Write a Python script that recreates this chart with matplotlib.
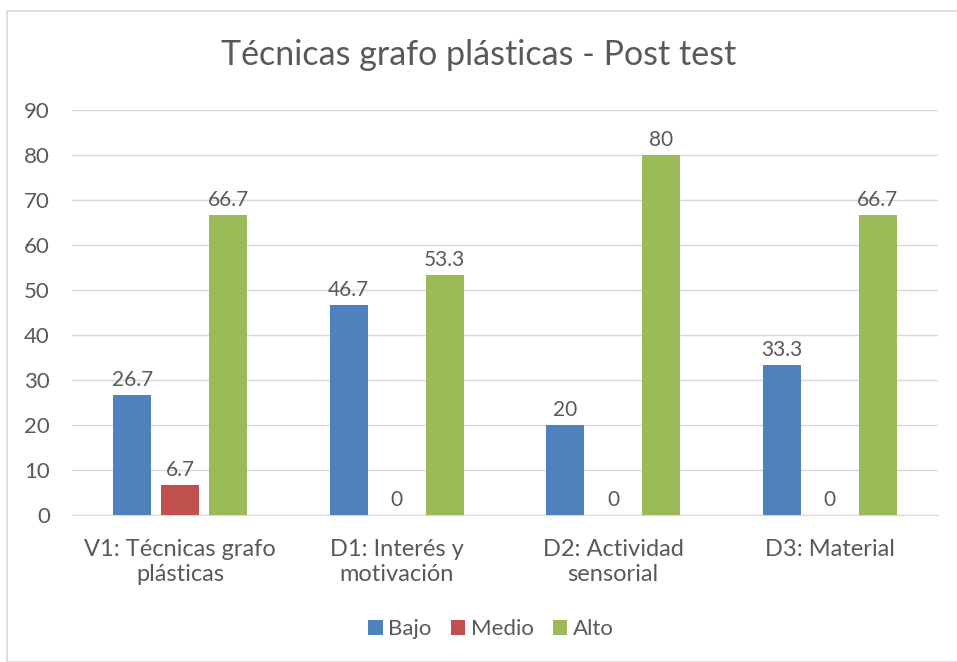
import matplotlib.pyplot as plt
import numpy as np
from matplotlib.patches import Rectangle

plt.rcParams['font.family'] = ['Lato', 'DejaVu Sans']

categories = ["V1: Técnicas grafo\nplásticas", "D1: Interés y\nmotivación",
              "D2: Actividad\nsensorial", "D3: Material"]
bajo = [26.7, 46.7, 20, 33.3]
medio = [6.7, 0, 0, 0]
alto = [66.7, 53.3, 80, 66.7]
series = {"Bajo": bajo, "Medio": medio, "Alto": alto}
colors = ["#4F81BD", "#C0504D", "#9BBB59"]
text_color = "#595959"

fig = plt.figure(figsize=(9.57, 6.62), dpi=100)
# chart area border
fig.patches.append(Rectangle((7 / 957, 0), 2, (662 - 11) / 662, transform=fig.transFigure,
                             fill=False, edgecolor="#D9D9D9", linewidth=1.2))
ax = fig.add_axes([72 / 957, (662 - 515) / 662, (938 - 72) / 957, (515 - 110) / 662])

x = np.arange(len(categories))
step = 0.221
width = 0.175
for i, (name, vals) in enumerate(series.items()):
    pos = x + (i - 1) * step
    ax.bar(pos, vals, width, color=colors[i], label=name, zorder=3)
    for xp, v in zip(pos, vals):
        ax.text(xp, v + 3.4, f"{v:g}", ha="center", va="center", fontsize=15, color=text_color)

ax.set_xlim(-0.5, len(categories) - 0.5)
ax.set_ylim(0, 90)
ax.set_yticks(range(0, 91, 10))
ax.yaxis.grid(True, color="#D9D9D9", linewidth=1, zorder=0)
for s in ["top", "right", "left"]:
    ax.spines[s].set_visible(False)
ax.spines["bottom"].set_color("#D9D9D9")
ax.tick_params(axis="both", length=0, labelsize=16, colors=text_color)
ax.tick_params(axis="x", labelsize=17, pad=17)
ax.tick_params(axis="y", pad=16)
ax.set_xticks(x)
ax.set_xticklabels(categories, linespacing=1.28)

fig.text(0.5, (662 - 55) / 662, "Técnicas grafo plásticas - Post test", ha="center", va="center",
         fontsize=24.5, color=text_color)
fig.legend(loc="center", bbox_to_anchor=(0.513, (662 - 629) / 662), ncol=3, frameon=False,
           fontsize=16, handlelength=0.65, handleheight=0.65, handletextpad=0.25, columnspacing=0.85,
           labelcolor=text_color)

fig.savefig("out.png", dpi=100)
